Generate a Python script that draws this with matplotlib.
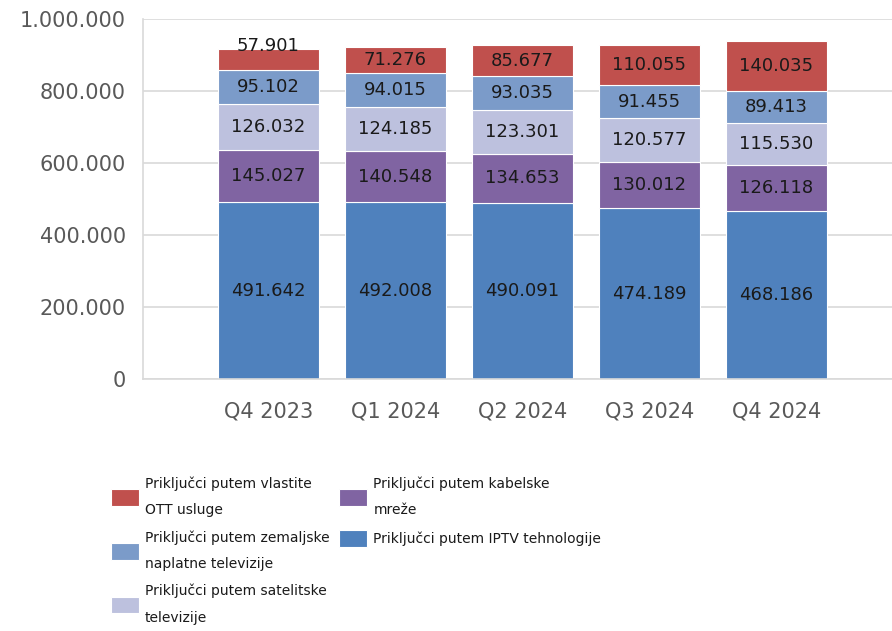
import matplotlib.pyplot as plt
from matplotlib.ticker import FuncFormatter
import numpy as np

quarters = ['Q4 2023', 'Q1 2024', 'Q2 2024', 'Q3 2024', 'Q4 2024']
iptv = [491642, 492008, 490091, 474189, 468186]
kabelske = [145027, 140548, 134653, 130012, 126118]
satelitske = [126032, 124185, 123301, 120577, 115530]
zemaljske = [95102, 94015, 93035, 91455, 89413]
ott = [57901, 71276, 85677, 110055, 140035]

series = [
    (iptv, 'Priključci putem IPTV tehnologije', '#4F81BD'),
    (kabelske, 'Priključci putem kabelske\nmreže', '#8064A2'),
    (satelitske, 'Priključci putem satelitske\ntelevizije', '#BDC1DE'),
    (zemaljske, 'Priključci putem zemaljske\nnaplatne televizije', '#7B9BC9'),
    (ott, 'Priključci putem vlastite\nOTT usluge', '#C0504D'),
]

def fmt(v):
    return f'{int(v):,}'.replace(',', '.')

fig = plt.figure(figsize=(8.92, 6.31), dpi=100)
ax = fig.add_axes([0.160, 0.399, 0.840, 0.571])

x = np.arange(len(quarters))
bottom = np.zeros(len(quarters))
handles = {}
for vals, label, color in series:
    bars = ax.bar(x, vals, 0.79, bottom=bottom, color=color, edgecolor='white',
                  linewidth=0.8, label=label)
    handles[label] = bars
    for xi, v, b in zip(x, vals, bottom):
        dy = 10 if v < 60000 else 0
        ax.annotate(fmt(v), (xi, b + v / 2), xytext=(0, dy), textcoords='offset points',
                    ha='center', va='center', fontsize=13, color='#1a1a1a')
    bottom += np.array(vals)

ax.set_ylim(0, 1000000)
ax.set_xlim(-0.99, 4.91)
ax.set_yticks(np.arange(0, 1000001, 200000))
ax.yaxis.set_major_formatter(FuncFormatter(lambda v, p: fmt(v)))
ax.set_xticks(x)
ax.set_xticklabels(quarters)
ax.tick_params(axis='y', length=0, labelsize=15, labelcolor='#595959', pad=12)
ax.tick_params(axis='x', length=0, labelsize=15, labelcolor='#595959', pad=16)
ax.grid(axis='y', color='#d9d9d9', linewidth=1.2)
ax.set_axisbelow(True)
for s in ['top', 'right']:
    ax.spines[s].set_visible(False)
ax.spines['left'].set_color('#d9d9d9')
ax.spines['bottom'].set_color('#d9d9d9')
ax.spines['left'].set_linewidth(1.2)
ax.spines['bottom'].set_linewidth(1.2)

order = [series[4][1], series[3][1], series[2][1], series[1][1], series[0][1]]
leg = fig.legend([handles[k] for k in order], order, loc='upper left',
                 bbox_to_anchor=(0.1245, 0.2450), ncol=2, frameon=False, fontsize=10,
                 handlelength=2.0, handleheight=1.45, handletextpad=0.45,
                 columnspacing=0.7, labelspacing=0.95, borderpad=0, borderaxespad=0,
                 labelcolor='#1a1a1a')
for t in leg.get_texts():
    t.set_linespacing(2.1)

fig.savefig('out.png', dpi=100)
